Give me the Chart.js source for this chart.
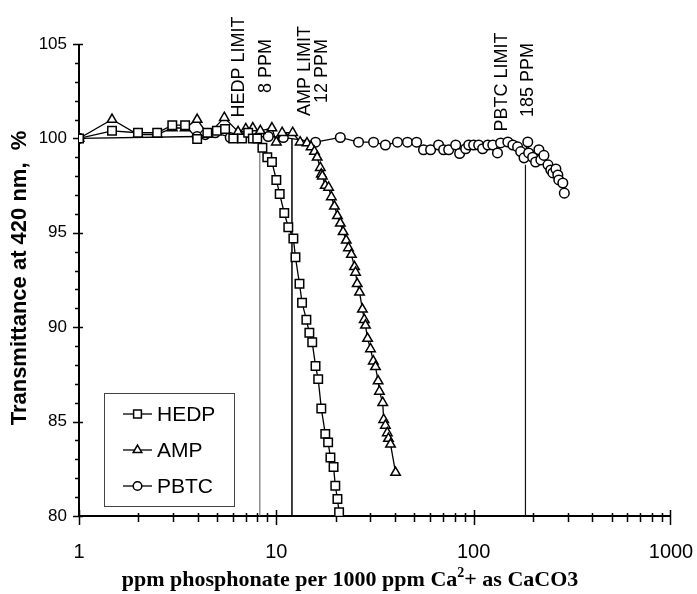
<!DOCTYPE html>
<html>
<head>
<meta charset="utf-8">
<script src="https://cdn.jsdelivr.net/npm/chart.js@4"></script>
<style>
  html, body { margin: 0; padding: 0; background: #fff; }
  canvas { display: block; }
</style>
</head>
<body>
<canvas id="chart" width="697" height="594"></canvas>
<script>
// --- data ---
const xTicks = [1, 10, 100, 1000];
const yTicks = [80, 85, 90, 95, 100, 105];

const hedpX = [1, 1.47, 1.99, 2.49, 2.97, 3.45, 3.97, 4.47, 5.0, 5.5, 6.05, 6.7, 7.2, 7.6, 8.0,
  8.5, 9.0, 9.5, 10.0, 10.4, 10.97, 11.5, 12.2, 12.5, 13.1, 13.5, 14.2, 14.7, 15.2, 15.8, 16.3,
  16.9, 17.7, 18.3, 18.8, 19.5, 19.9, 20.4, 20.8];
const hedpY = [100.0, 100.4, 100.3, 100.3, 100.7, 100.7, 99.97, 100.3, 100.4, 100.5, 100.0, 100.0, 100.3, 100.0, 100.0,
  99.5, 99.0, 98.75, 97.8, 97.05, 96.05, 95.3, 94.7, 93.7, 92.3, 91.3, 90.4, 89.7, 89.2, 87.95, 87.25,
  85.7, 84.35, 83.9, 83.1, 82.6, 81.6, 80.9, 80.2];

const ampX = [1, 1.47, 1.99, 2.49, 2.97, 3.45, 3.97, 4.5, 5.45, 6.4, 7.0, 7.6, 8.3, 9.5, 10.0,
  10.7, 12.1, 13.2, 14.3, 15.0, 15.6, 16.1, 16.7, 16.9, 17.1, 17.7, 18.4, 19.0, 19.7, 20.4, 21.1,
  21.8, 22.6, 23.2, 24.0, 24.9, 25.2, 25.7, 26.4, 27.3, 27.9, 28.3, 29.0, 30.0, 31.0, 31.8,
  32.8, 33.3, 34.6, 35.0, 35.7, 36.5, 37.0, 37.9, 40.2];
const ampY = [100.0, 101.0, 100.2, 100.2, 100.55, 100.55, 101.0, 100.2, 101.1, 100.35, 100.5, 100.55, 100.4, 100.55, 99.8,
  100.3, 100.3, 99.8, 99.75, 99.55, 99.3, 99.0, 98.45, 98.1, 98.0, 97.5, 97.4, 96.9, 96.4, 95.9, 95.5,
  95.05, 94.6, 94.2, 93.85, 93.2, 92.9, 92.3, 91.85, 90.95, 90.4, 90.1, 89.4, 88.85, 88.2, 87.9,
  87.15, 86.6, 86.0, 85.1, 84.8, 84.4, 84.1, 83.8, 82.3];

const pbtcX = [1, 3.97, 4.36, 4.9, 5.84, 6.57, 9.1, 10.85, 15.8, 21.1, 26.1, 31.1, 35.7, 41.1, 46.2,
  51.4, 55.7, 60.5, 66.4, 70.4, 74.7, 81.1, 84.9, 91.1, 94.4, 100, 106, 111, 118, 125, 132, 137,
  149, 158, 167, 173, 180, 188, 190, 199, 206, 214, 219, 227, 238, 246, 252, 261, 267, 270, 283, 288];
const pbtcY = [100.0, 100.1, 100.2, 100.3, 100.05, 100.05, 100.1, 100.05, 99.8, 100.05, 99.8, 99.8, 99.65, 99.8, 99.8,
  99.8, 99.4, 99.4, 99.65, 99.4, 99.4, 99.65, 99.2, 99.45, 99.65, 99.65, 99.65, 99.45, 99.65, 99.65, 99.23, 99.76,
  99.81, 99.65, 99.55, 99.3, 98.97, 99.81, 99.23, 99.0, 98.75, 99.4, 98.86, 99.1, 98.6, 98.33, 98.17, 98.38, 98.06, 97.8, 97.64, 97.1];

const limitNames = ['HEDP LIMIT', 'AMP LIMIT', 'PBTC LIMIT'];
const limitPpm = ['8 PPM', '12 PPM', '185 PPM'];
const limitX = [8.25, 12.0, 183];
const limitTop = [99.55, 100.0, 98.6];

const seriesNames = ['HEDP', 'AMP', 'PBTC'];
const seriesMarkers = ['rect', 'triangle', 'circle'];

const yTitle = 'Transmittance at 420 nm,  %';
const xTitleParts = ['ppm phosphonate per 1000 ppm Ca', '2', '+ as CaCO3'];

const SANS = '"Liberation Sans", Arial, Helvetica, sans-serif';
const SERIF = '"Liberation Serif", "Times New Roman", Times, serif';

function pts(xs, ys) {
  return xs.map((x, i) => ({ x: x, y: ys[i] }));
}

const markerRadius = { rect: 6, triangle: 5.5, circle: 4.8 };

function seriesSet(name, xs, ys, marker) {
  return {
    label: name,
    data: pts(xs, ys),
    borderColor: '#000',
    borderWidth: 1.3,
    pointStyle: marker,
    pointRadius: markerRadius[marker],
    pointBackgroundColor: '#fff',
    pointBorderColor: '#000',
    pointBorderWidth: 1.5,
    tension: 0,
    fill: false
  };
}

const limitColors = ['#555', '#000', '#111'];
const limitWidths = [1, 1.5, 1.2];

const datasets = [
  seriesSet(seriesNames[0], hedpX, hedpY, seriesMarkers[0]),
  seriesSet(seriesNames[1], ampX, ampY, seriesMarkers[1]),
  seriesSet(seriesNames[2], pbtcX, pbtcY, seriesMarkers[2])
];
limitX.forEach((x, i) => {
  datasets.push({
    label: limitNames[i],
    data: [{ x: x, y: 80 }, { x: x, y: limitTop[i] }],
    borderColor: limitColors[i],
    borderWidth: limitWidths[i],
    pointRadius: 0,
    fill: false
  });
});

// axes with crossing ticks, drawn under the data
const axesPlugin = {
  id: 'axesLines',
  beforeDatasetsDraw(chart) {
    const { ctx, chartArea: a, scales: { x, y } } = chart;
    ctx.save();
    ctx.strokeStyle = '#000';
    ctx.lineWidth = 2;
    ctx.beginPath();
    ctx.moveTo(a.left, a.top);
    ctx.lineTo(a.left, a.bottom);
    ctx.lineTo(a.right, a.bottom);
    ctx.stroke();

    ctx.lineWidth = 1.5;
    ctx.beginPath();
    // x ticks: decades long, 2..9 short
    for (let d = 1; d < 1000; d *= 10) {
      for (let k = 1; k <= 9; k++) {
        const px = Math.round(x.getPixelForValue(d * k)) + 0.5;
        if (k === 1) {
          ctx.moveTo(px, a.bottom - 6); ctx.lineTo(px, a.bottom + 9);
        } else {
          ctx.moveTo(px, a.bottom - 3); ctx.lineTo(px, a.bottom + 6);
        }
      }
    }
    const p1000 = Math.round(x.getPixelForValue(1000)) - 0.5;
    ctx.moveTo(p1000, a.bottom - 6); ctx.lineTo(p1000, a.bottom + 9);
    // y ticks: every 5 long, every 1 short
    for (let v = 80; v <= 105; v++) {
      const py = Math.round(y.getPixelForValue(v)) + 0.5;
      if (v % 5 === 0) {
        ctx.moveTo(a.left - 6, py); ctx.lineTo(a.left + 4, py);
      } else {
        ctx.moveTo(a.left - 4, py); ctx.lineTo(a.left, py);
      }
    }
    ctx.stroke();
    ctx.restore();
  },
  afterDraw(chart) {
    const { ctx, chartArea: a, scales: { x, y } } = chart;
    ctx.save();
    ctx.fillStyle = '#000';

    // limit labels, rotated
    const labelDx = [[-21, 6], [13, 30], [-23, 3]];
    const labelCy = [[67, 66], [71, 71], [82, 80]];
    ctx.font = '18px ' + SANS;
    ctx.textAlign = 'center';
    ctx.textBaseline = 'middle';
    limitX.forEach((v, i) => {
      const px = x.getPixelForValue(v);
      [limitNames[i], limitPpm[i]].forEach((t, j) => {
        ctx.save();
        ctx.translate(px + labelDx[i][j], labelCy[i][j]);
        ctx.rotate(-Math.PI / 2);
        ctx.fillText(t, 0, 0);
        ctx.restore();
      });
    });

    // y title
    ctx.save();
    ctx.font = 'bold 22px ' + SANS;
    ctx.translate(20, 278);
    ctx.rotate(-Math.PI / 2);
    ctx.fillText(yTitle, 0, 0);
    ctx.restore();

    // x title with superscript
    const big = 'bold 22px ' + SERIF;
    const small = 'bold 14px ' + SERIF;
    ctx.textAlign = 'left';
    ctx.textBaseline = 'alphabetic';
    ctx.font = big;
    const w0 = ctx.measureText(xTitleParts[0]).width;
    const w2 = ctx.measureText(xTitleParts[2]).width;
    ctx.font = small;
    const w1 = ctx.measureText(xTitleParts[1]).width;
    let tx = 350 - (w0 + w1 + w2) / 2;
    const base = 586;
    ctx.font = big;
    ctx.fillText(xTitleParts[0], tx, base);
    tx += w0;
    ctx.font = small;
    ctx.fillText(xTitleParts[1], tx, base - 9);
    tx += w1;
    ctx.font = big;
    ctx.fillText(xTitleParts[2], tx, base);

    // legend box
    const bx = a.left + 25, by = a.bottom - 123, bw = 130, bh = 113;
    ctx.strokeStyle = '#444';
    ctx.lineWidth = 1;
    ctx.strokeRect(bx + 0.5, by + 0.5, bw, bh);
    ctx.font = '21px ' + SANS;
    ctx.textBaseline = 'middle';
    seriesNames.forEach((n, i) => {
      const cy = by + 21 + i * 36;
      ctx.strokeStyle = '#000';
      ctx.lineWidth = 1.3;
      ctx.beginPath();
      ctx.moveTo(bx + 19, cy);
      ctx.lineTo(bx + 48, cy);
      ctx.stroke();
      ctx.fillStyle = '#fff';
      ctx.lineWidth = 1.5;
      Chart.helpers.drawPoint(ctx, {
        pointStyle: seriesMarkers[i],
        radius: markerRadius[seriesMarkers[i]] - 0.5,
        borderWidth: 1.5,
        rotation: 0
      }, bx + 33.5, cy);
      ctx.fillStyle = '#000';
      ctx.fillText(n, bx + 53, cy + 1);
    });
    ctx.restore();
  }
};

const ctx = document.getElementById('chart').getContext('2d');
new Chart(ctx, {
  type: 'line',
  data: { datasets: datasets },
  options: {
    responsive: false,
    animation: false,
    layout: { padding: { top: 44, right: 26, left: 0, bottom: 0 } },
    plugins: { legend: { display: false }, tooltip: { enabled: false } },
    scales: {
      x: {
        type: 'logarithmic',
        min: 1,
        max: 1000,
        grid: { display: false, drawTicks: false },
        border: { display: false },
        afterBuildTicks: s => { s.ticks = xTicks.map(v => ({ value: v })); },
        afterFit: s => { s.height = 78; s.paddingLeft = 0; s.paddingRight = 0; },
        ticks: {
          callback: v => String(v),
          autoSkip: false,
          maxRotation: 0,
          color: '#000',
          padding: 24,
          font: { family: SANS, size: 20 }
        }
      },
      y: {
        type: 'linear',
        min: 80,
        max: 105,
        grid: { display: false, drawTicks: false },
        border: { display: false },
        afterBuildTicks: s => { s.ticks = yTicks.map(v => ({ value: v })); },
        afterFit: s => { s.width = 79; s.paddingTop = 0; s.paddingBottom = 0; },
        ticks: {
          autoSkip: false,
          color: '#000',
          padding: 12,
          font: { family: SANS, size: 17 }
        }
      }
    }
  },
  plugins: [axesPlugin]
});
</script>
</body>
</html>
